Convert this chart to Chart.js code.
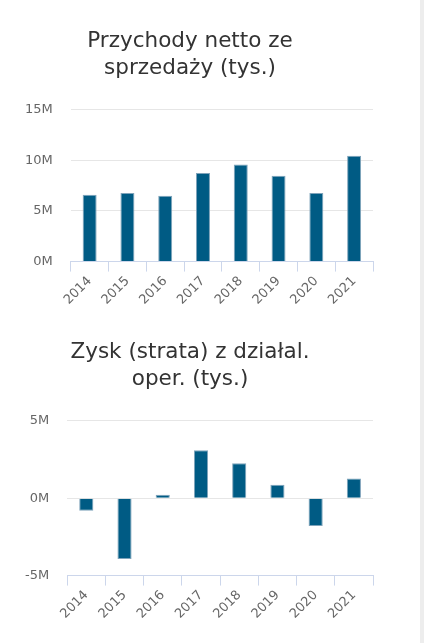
<!DOCTYPE html>
<html>
<head>
<meta charset="utf-8">
<script src="https://cdn.jsdelivr.net/npm/chart.js@4/dist/chart.umd.min.js"></script>
<style>
  html, body { margin: 0; padding: 0; background: #fff; }
  #page { position: relative; width: 420px; height: 643px; border-right: 4px solid #ededed; }
  .box { position: absolute; left: 0; width: 394px; }
</style>
</head>
<body>
<div id="page">
  <div class="box" style="top:0; height:315px"><canvas id="przychody"></canvas></div>
  <div class="box" style="top:311px; height:318px"><canvas id="zysk"></canvas></div>
</div>
<script>
// lata (kategorie)
const lata = ['2014', '2015', '2016', '2017', '2018', '2019', '2020', '2021'];

// Przychody netto ze sprzedaży (tys.)
const przychody = [6.6e6, 6.78e6, 6.5e6, 8.75e6, 9.6e6, 8.48e6, 6.78e6, 10.45e6];

// Zysk (strata) z działal. oper. (tys.)
const zysk = [-0.82e6, -3.93e6, 0.22e6, 3.1e6, 2.26e6, 0.87e6, -1.8e6, 1.27e6];

const kolorSlupka = '#005b84';
const kolorRamki = '#7fa3ba';

// formatowanie etykiet osi y w milionach
function naMiliony(v) {
    return (v / 1e6) + 'M';
}

function zrobWykres(id, tytul, dane, minY, maxY) {
    const ctx = document.getElementById(id).getContext('2d');
    return new Chart(ctx, {
        type: 'bar',
        data: {
            labels: lata,
            datasets: [{
                data: dane,
                backgroundColor: kolorSlupka,
                borderColor: kolorRamki,
                borderWidth: 1,
                categoryPercentage: 1,
                barPercentage: 0.37
            }]
        },
        options: {
            animation: false,
            responsive: true,
            maintainAspectRatio: false,
            events: [],
            layout: {
                padding: { left: 7, right: 21, bottom: 5 }
            },
            plugins: {
                legend: { display: false },
                tooltip: { enabled: false },
                title: {
                    display: true,
                    text: tytul,
                    color: '#333333',
                    font: { family: 'DejaVu Sans', size: 21.5, weight: 'normal', lineHeight: 1.25 },
                    padding: { top: 28, bottom: 28 }
                }
            },
            scales: {
                x: {
                    offset: true,
                    grid: {
                        display: true,
                        drawOnChartArea: false,
                        drawTicks: true,
                        tickLength: 10,
                        color: '#ccd6eb',
                        offset: true
                    },
                    border: { display: true, color: '#ccd6eb', width: 1 },
                    ticks: {
                        color: '#666666',
                        font: { family: 'DejaVu Sans', size: 13 },
                        minRotation: 45,
                        maxRotation: 45,
                        padding: 2,
                        autoSkip: false
                    }
                },
                y: {
                    min: minY,
                    max: maxY,
                    grid: {
                        color: '#e6e6e6',
                        drawTicks: false
                    },
                    border: { display: false },
                    ticks: {
                        stepSize: 5e6,
                        color: '#666666',
                        font: { family: 'DejaVu Sans', size: 13 },
                        padding: 18,
                        callback: naMiliony
                    }
                }
            }
        }
    });
}

zrobWykres('przychody', ['Przychody netto ze', 'sprzedaży (tys.)'], przychody, 0, 15e6);
zrobWykres('zysk', ['Zysk (strata) z działal.', 'oper. (tys.)'], zysk, -5e6, 5e6);
</script>
</body>
</html>
